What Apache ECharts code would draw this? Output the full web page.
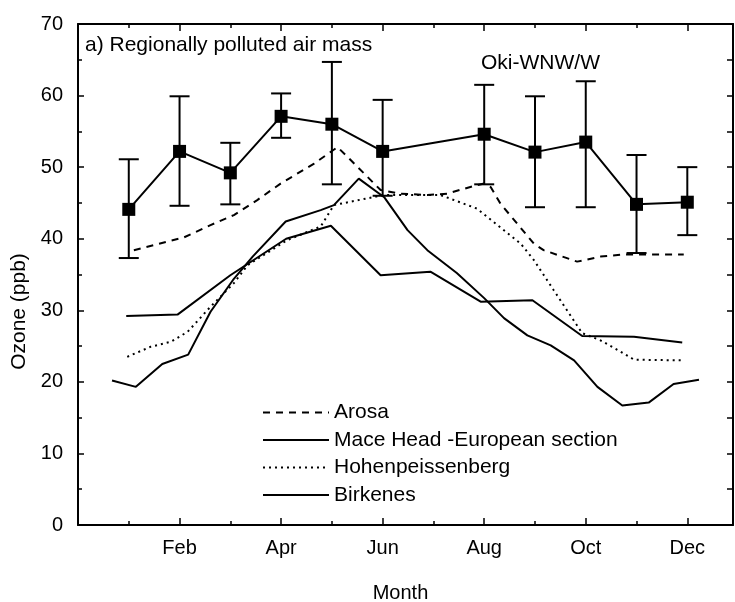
<!DOCTYPE html>
<html>
<head>
<meta charset="utf-8">
<script src="https://cdn.jsdelivr.net/npm/echarts@6/dist/echarts.min.js"></script>
<style>
  html, body { margin: 0; padding: 0; background: #fff; }
  #main { width: 735px; height: 602px; }
</style>
</head>
<body>
<div id="main"></div>
<script>
// month labels on the x axis (value axis, 1 = Jan)
const monthLabels = { 2: 'Feb', 4: 'Apr', 6: 'Jun', 8: 'Aug', 10: 'Oct', 12: 'Dec' };

// Oki-WNW/W monthly mean with error bars (no July)
const okiMonths = [1, 2, 3, 4, 5, 6, 8, 9, 10, 11, 12];
const okiMean = [44.1, 52.2, 49.2, 57.1, 56.0, 52.2, 54.6, 52.1, 53.5, 44.8, 45.1];
const okiLow = [37.3, 44.6, 44.8, 54.1, 47.6, 46.0, 47.6, 44.4, 44.4, 38.0, 40.5];
const okiHigh = [51.1, 59.9, 53.4, 60.3, 64.7, 59.4, 61.5, 59.9, 62.0, 51.7, 50.0];

// comparison stations, [month, ppb]
const arosa = [
  [1.1, 38.4], [1.76, 39.6], [2.09, 40.2], [2.61, 41.9], [3.07, 43.3], [3.53, 45.4],
  [3.99, 47.7], [4.65, 50.5], [5.11, 52.8], [5.37, 51.0], [5.96, 46.8], [6.35, 46.3],
  [6.88, 46.1], [7.27, 46.3], [7.86, 47.5], [8.0, 47.7], [8.13, 47.2], [8.32, 44.9],
  [8.72, 41.5], [8.98, 39.3], [9.17, 38.4], [9.83, 36.8], [10.29, 37.5], [10.75, 37.8],
  [11.93, 37.8]
];
const maceHead = [
  [0.95, 29.2], [1.96, 29.4], [3, 34.9], [4.1, 40.0], [4.98, 41.8], [5.96, 34.9],
  [6.94, 35.4], [7.93, 31.2], [8.95, 31.4], [9.93, 26.4], [10.95, 26.3], [11.9, 25.5]
];
const hohenpeissenberg = [
  [0.97, 23.5], [1.43, 24.9], [1.83, 25.6], [2.16, 27.0], [2.61, 30.5], [3.07, 33.8],
  [3.34, 36.3], [4.12, 39.8], [4.78, 41.7], [5.04, 44.7], [6.02, 46.1], [7.14, 46.1],
  [7.86, 44.2], [8.72, 39.3], [8.98, 37.0], [9.37, 32.8], [9.93, 26.8], [10.29, 25.8],
  [10.69, 24.2], [10.95, 23.1], [11.9, 23.0]
];
const birkenes = [
  [0.67, 20.2], [1.14, 19.3], [1.66, 22.5], [2.17, 23.8], [2.61, 29.8], [3.07, 34.4],
  [3.44, 37.5], [4.09, 42.4], [4.78, 44.0], [5.04, 44.7], [5.53, 48.4], [6.03, 45.8],
  [6.49, 41.2], [6.88, 38.4], [7.46, 35.2], [8.0, 31.7], [8.39, 28.9], [8.85, 26.5],
  [9.31, 25.1], [9.77, 23.0], [10.23, 19.3], [10.72, 16.7], [11.24, 17.1], [11.73, 19.7],
  [12.23, 20.3]
];

const font = 'Liberation Sans, Arial, sans-serif';
const okiLine = okiMonths.map((m, i) => [m, okiMean[i]]);
const okiBars = okiMonths.map((m, i) => [m, okiLow[i], okiHigh[i]]);
const noDot = { color: 'rgba(0,0,0,0)' }; // keeps legend icons to the bare line

// x axes (bottom + mirrored top), ticks pointing into the plot
const xBase = {
  type: 'value', min: 0, max: 12.9, interval: 2,
  splitLine: { show: false },
  axisLine: { show: true, onZero: false, lineStyle: { color: '#000', width: 2 } },
  axisTick: { inside: true, length: 7, lineStyle: { color: '#000', width: 1.5 } },
  minorTick: { show: true, splitNumber: 2, length: 4, lineStyle: { color: '#000', width: 1.5 } },
};
// y axes (left + right)
const yBase = {
  type: 'value', min: 0, max: 70, interval: 10,
  splitLine: { show: false },
  axisLine: { show: true, onZero: false, lineStyle: { color: '#000', width: 2 } },
  axisTick: { show: true, inside: true, length: 6, lineStyle: { color: '#000', width: 1.5 } },
  minorTick: { show: true, splitNumber: 2, length: 4, lineStyle: { color: '#000', width: 1.5 } },
};

const option = {
  animation: false,
  backgroundColor: '#fff',
  textStyle: { fontFamily: font },
  grid: { left: 78, right: 2, top: 24, bottom: 77, outerBoundsMode: 'none', containLabel: false },
  title: [
    { text: 'a) Regionally polluted air mass', left: 85, top: 35, padding: 0,
      textStyle: { fontSize: 21, fontWeight: 'normal', color: '#000', fontFamily: font } },
    { text: 'Oki-WNW/W', left: 481, top: 53, padding: 0,
      textStyle: { fontSize: 21, fontWeight: 'normal', color: '#000', fontFamily: font } },
  ],
  legend: {
    data: ['Arosa', 'Mace Head -European section', 'Hohenpeissenberg', 'Birkenes'],
    orient: 'vertical', left: 262, top: 402, padding: 0,
    itemWidth: 66, itemHeight: 14, itemGap: 6.5,
    textStyle: { fontSize: 21, lineHeight: 21, color: '#000', fontFamily: font },
  },
  xAxis: [
    { ...xBase, position: 'bottom',
      name: 'Month', nameLocation: 'middle', nameGap: 58,
      nameTextStyle: { fontSize: 20, color: '#000', fontFamily: font, padding: [0, 10, 0, 0] },
      axisLabel: { fontSize: 20, color: '#000', margin: 13, fontFamily: font,
        formatter: v => monthLabels[v] || '' } },
    { ...xBase, position: 'top', axisLabel: { show: false } },
  ],
  yAxis: [
    { ...yBase, position: 'left',
      name: 'Ozone (ppb)', nameLocation: 'middle', nameGap: 45,
      nameTextStyle: { fontSize: 21, color: '#000', fontFamily: font, padding: [0, 74, 0, 0] },
      axisLabel: { fontSize: 20, color: '#000', margin: 15, fontFamily: font } },
    { ...yBase, position: 'right', interval: 5, minorTick: { show: false },
      axisLabel: { show: false } },
  ],
  series: [
    { name: 'Arosa', type: 'line', data: arosa, symbol: 'none', itemStyle: noDot,
      lineStyle: { color: '#000', width: 2, type: [7, 6] } },
    { name: 'Mace Head -European section', type: 'line', data: maceHead, symbol: 'none', itemStyle: noDot,
      lineStyle: { color: '#000', width: 2 } },
    { name: 'Hohenpeissenberg', type: 'line', data: hohenpeissenberg, symbol: 'none', itemStyle: noDot,
      lineStyle: { color: '#000', width: 2, type: [2, 4] } },
    { name: 'Birkenes', type: 'line', data: birkenes, symbol: 'none', itemStyle: noDot,
      lineStyle: { color: '#000', width: 2 } },
    { name: 'Oki bars', type: 'custom', data: okiBars, z: 3,
      renderItem: (params, api) => {
        const lo = api.coord([api.value(0), api.value(1)]);
        const hi = api.coord([api.value(0), api.value(2)]);
        const w = 10;
        const st = { stroke: '#000', lineWidth: 2 };
        return { type: 'group', children: [
          { type: 'line', shape: { x1: lo[0], y1: lo[1], x2: hi[0], y2: hi[1] }, style: st },
          { type: 'line', shape: { x1: lo[0] - w, y1: lo[1], x2: lo[0] + w, y2: lo[1] }, style: st },
          { type: 'line', shape: { x1: hi[0] - w, y1: hi[1], x2: hi[0] + w, y2: hi[1] }, style: st },
        ] };
      } },
    { name: 'Oki-WNW/W', type: 'line', data: okiLine, z: 4,
      symbol: 'rect', symbolSize: 13,
      itemStyle: { color: '#000' },
      lineStyle: { color: '#000', width: 2 } },
  ],
};

const myChart = echarts.init(document.getElementById('main'));
myChart.setOption(option);
</script>
</body>
</html>
